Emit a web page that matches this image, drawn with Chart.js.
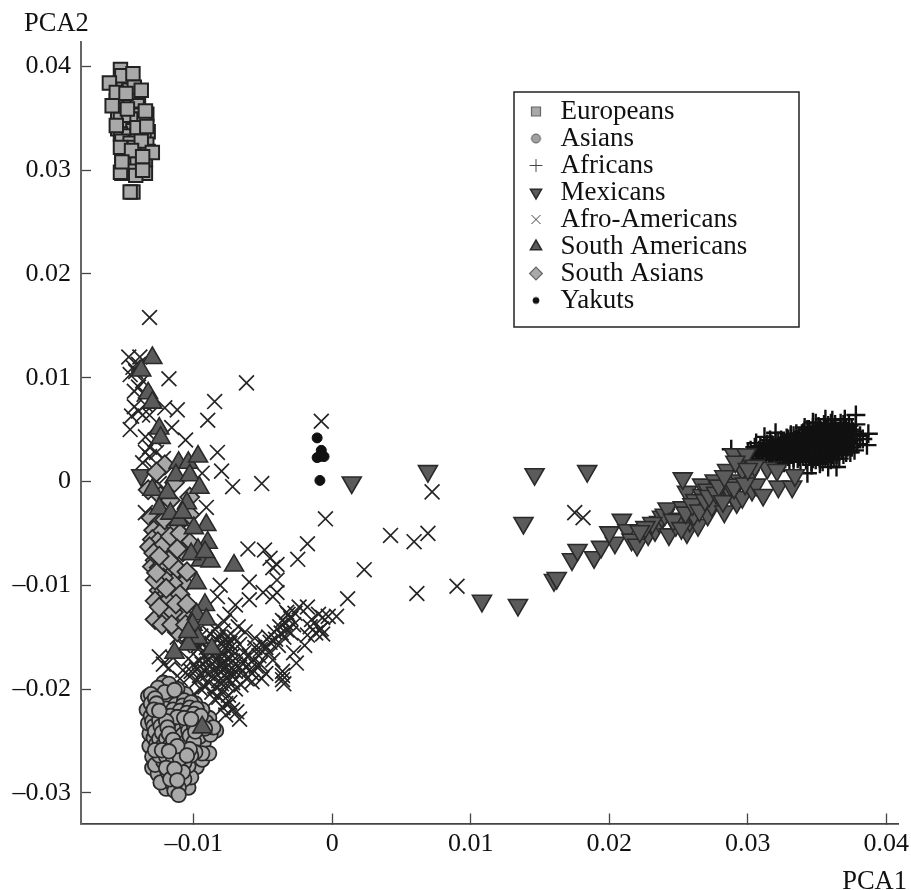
<!DOCTYPE html>
<html><head><meta charset="utf-8">
<style>html,body{margin:0;padding:0;background:#fff}canvas{display:block}</style>
<script src="https://cdn.jsdelivr.net/npm/chart.js@4/dist/chart.umd.min.js"></script>
</head><body><canvas id="c" width="911" height="890"></canvas>
<script>
const xTicks=[-0.01,0,0.01,0.02,0.03,0.04];
const yTicks=[-0.03,-0.02,-0.01,0,0.01,0.02,0.03,0.04];
const europeans=[[-.0147,.0372],[-.0143,.0365],[-.0150,.0360],[-.0145,.0351],[-.0137,.0345],[-.0150,.0345],[-.0147,.0343],[-.0143,.0344],[-.0139,.0340],[-.0151,.0338],[-.0144,.0331],[-.0139,.0332],[-.0135,.0334],[-.0150,.0331],[-.0141,.0327],[-.0148,.0324],[-.0152,.0325],[-.0139,.0322],[-.0135,.0322],[-.0149,.0319],[-.0142,.0316],[-.0137,.0319],[-.0152,.0314],[-.0145,.0310],[-.0150,.0311],[-.0143,.0307],[-.0139,.0304],[-.0149,.0300],[-.0140,.0301],[-.0146,.0350],[-.0139,.0356],
[-.0149,.0386],[-.0146,.0385],[-.0155,.0381],[-.0151,.0379],[-.0147,.0377],[-.0153,.0370],[-.0149,.0366],[-.0144,.0368],[-.0140,.0371],[-.0156,.0367],[-.0146,.0362],[-.0141,.0362],[-.0152,.0358],[-.0150,.0353],[-.0155,.0354],[-.0144,.0354],[-.0139,.0353],[-.0134,.0354],[-.0153,.0349],[-.0147,.0349],[-.0141,.0349],[-.0136,.0349],[-.0155,.0340],[-.0149,.0340],[-.0144,.0338],[-.0137,.0336],[-.0133,.0337],[-.0153,.0335],[-.0147,.0333],[-.0141,.0334],[-.0136,.0331],[-.0152,.0328],[-.0146,.0326],[-.0134,.0325],[-.0150,.0316],[-.0143,.0322],[-.0133,.0318],[-.0147,.0313],[-.0140,.0310],[-.0135,.0310],[-.0151,.0305],[-.0145,.0305],[-.0141,.0306],[-.0137,.0303],[-.0152,.0297],[-.0146,.0299],[-.0135,.0297],
[-.0153,.0397],[-.0152,.0391],[-.0144,.0393],[-.0161,.0384],[-.0143,.0380],[-.0138,.0377],[-.0156,.0375],[-.0149,.0374],[-.0159,.0362],[-.0148,.0359],[-.0135,.0357],[-.0156,.0343],[-.0141,.0341],[-.0134,.0342],[-.0138,.0328],[-.0153,.0322],[-.0145,.0319],[-.0130,.0317],[-.0137,.0313],[-.0153,.0298],[-.0142,.0295],[-.0144,.0279],[-.0146,.0279],[-.0137,.0300],[-.0152,.0308]];
const asiansBack=[[-.0133,-.0207],[-.0134,-.0220],[-.0133,-.0233],[-.0132,-.0243],[-.0132,-.0255],[-.0130,-.0265],[-.0130,-.0276],[-.0126,-.0282],[-.0124,-.0290],[-.0120,-.0296],[-.0104,-.0295],[-.0102,-.0285],[-.0098,-.0275],[-.0094,-.0268],[-.0089,-.0262],[-.0093,-.0252],[-.0096,-.0246],[-.0088,-.0244],[-.0084,-.0240],[-.0089,-.0228],[-.0094,-.0220],[-.0099,-.0214],[-.0106,-.0205],[-.0112,-.0200],[-.0117,-.0198],[-.0126,-.0224],[-.0110,-.0248],[-.0118,-.0246],[-.0106,-.0240],[-.0112,-.0265]];
const asians=[[-.0122,-.0194],[-.0118,-.0195],[-.0126,-.0199],[-.0131,-.0205],[-.0121,-.0203],[-.0114,-.0201],[-.0128,-.0209],[-.0124,-.0208],[-.0119,-.0207],[-.0111,-.0209],[-.0107,-.0211],[-.0102,-.0213],[-.0131,-.0214],[-.0127,-.0214],[-.0122,-.0213],[-.0117,-.0212],[-.0113,-.0215],[-.0108,-.0216],[-.0103,-.0218],[-.0098,-.0219],[-.0129,-.0220],[-.0125,-.0219],[-.0120,-.0219],[-.0115,-.0220],[-.0110,-.0221],[-.0105,-.0223],[-.0100,-.0224],[-.0095,-.0226],[-.0131,-.0226],[-.0127,-.0225],[-.0122,-.0225],[-.0117,-.0226],[-.0112,-.0227],[-.0107,-.0228],[-.0102,-.0229],[-.0097,-.0231],[-.0091,-.0232],[-.0086,-.0237],[-.0092,-.0238],[-.0130,-.0231],[-.0125,-.0230],[-.0120,-.0231],[-.0115,-.0232],[-.0110,-.0233],[-.0105,-.0234],[-.0100,-.0235],[-.0129,-.0236],[-.0124,-.0236],[-.0119,-.0237],[-.0114,-.0238],[-.0109,-.0239],[-.0104,-.0240],[-.0099,-.0241],[-.0128,-.0241],[-.0123,-.0242],[-.0118,-.0243],[-.0113,-.0243],[-.0108,-.0244],[-.0103,-.0245],[-.0129,-.0247],[-.0125,-.0248],[-.0120,-.0248],[-.0115,-.0249],[-.0110,-.0250],[-.0105,-.0250],[-.0100,-.0251],[-.0127,-.0253],[-.0122,-.0254],[-.0117,-.0254],[-.0112,-.0255],[-.0107,-.0255],[-.0094,-.0262],[-.0099,-.0261],[-.0103,-.0258],[-.0128,-.0259],[-.0123,-.0259],[-.0118,-.0260],[-.0113,-.0261],[-.0108,-.0261],[-.0125,-.0264],[-.0120,-.0265],[-.0115,-.0266],[-.0110,-.0267],[-.0105,-.0264],[-.0128,-.0273],[-.0122,-.0270],[-.0117,-.0271],[-.0112,-.0272],[-.0107,-.0271],[-.0120,-.0276],[-.0114,-.0277],[-.0109,-.0277],[-.0104,-.0274],[-.0118,-.0282],[-.0113,-.0283],[-.0108,-.0280],[-.0117,-.0287],[-.0112,-.0288],[-.0107,-.0287],[-.0115,-.0292],[-.0111,-.0295],[-.0119,-.0280],[-.0114,-.0298],[-.0111,-.0302],[-.0125,-.0221],[-.0104,-.0225],[-.0122,-.0261],[-.0102,-.0264]];
const africansBack=[[.0302,.0030],[.0304,.0022],[.0306,.0029],[.0307,.0025],[.0309,.0034],[.0311,.0021],[.0313,.0026],[.0314,.0036],[.0316,.0028],[.0317,.0021],[.0318,.0033],[.0320,.0038],[.0321,.0023],[.0322,.0030],[.0323,.0026],[.0324,.0040],[.0325,.0021],[.0326,.0033],[.0327,.0028],[.0328,.0042],[.0329,.0024],[.0330,.0037],[.0330,.0021],[.0331,.0043],[.0332,.0026],[.0332,.0035],[.0333,.0023],[.0334,.0040],[.0334,.0030],[.0335,.0046],[.0336,.0022],[.0336,.0036],[.0337,.0043],[.0337,.0029],[.0338,.0020],[.0339,.0033],[.0339,.0041],[.0340,.0025],[.0340,.0047],[.0341,.0035],[.0342,.0021],[.0342,.0044],[.0343,.0030],[.0343,.0050],[.0344,.0024],[.0344,.0039],[.0345,.0046],[.0345,.0028],[.0346,.0019],[.0346,.0036],[.0347,.0052],[.0347,.0042],[.0348,.0026],[.0348,.0033],[.0349,.0048],[.0349,.0021],[.0350,.0039],[.0350,.0029],[.0351,.0053],[.0351,.0044],[.0352,.0023],[.0352,.0032],[.0353,.0047],[.0353,.0037],[.0354,.0019],[.0354,.0028],[.0355,.0055],[.0355,.0041],[.0356,.0024],[.0356,.0034],[.0357,.0052],[.0357,.0044],[.0358,.0021],[.0358,.0029],[.0359,.0047],[.0359,.0033],[.0360,.0056],[.0360,.0037],[.0361,.0026],[.0361,.0051],[.0362,.0042],[.0362,.0022],[.0363,.0030],[.0363,.0055],[.0364,.0038],[.0365,.0048],[.0365,.0029],[.0366,.0022],[.0366,.0044],[.0367,.0033],[.0367,.0051],[.0368,.0040],[.0369,.0026],[.0369,.0055],[.0370,.0034],[.0371,.0043],[.0371,.0028],[.0372,.0048],[.0372,.0038],[.0373,.0054],[.0374,.0040],[.0375,.0033],[.0376,.0048]];
const africans=[[.0288,.0031],[.0306,.0037],[.0320,.0047],[.0347,.0057],[.0361,.0059],[.0378,.0064],[.0387,.0046],[.0386,.0035],[.0377,.0030],[.0364,.0014],[.0343,.0008],[.0321,.0014],[.0300,.0029],[.0303,.0026],[.0305,.0033],[.0308,.0030],[.0310,.0026],[.0312,.0034],[.0314,.0030],[.0315,.0024],[.0317,.0036],[.0319,.0031],[.0320,.0027],[.0322,.0039],[.0323,.0034],[.0325,.0029],[.0326,.0024],[.0327,.0036],[.0329,.0041],[.0330,.0032],[.0331,.0027],[.0332,.0038],[.0333,.0044],[.0334,.0034],[.0335,.0029],[.0336,.0041],[.0337,.0024],[.0338,.0036],[.0339,.0046],[.0340,.0031],[.0341,.0041],[.0342,.0027],[.0343,.0036],[.0344,.0050],[.0345,.0033],[.0346,.0044],[.0347,.0022],[.0348,.0039],[.0349,.0028],[.0350,.0047],[.0351,.0035],[.0352,.0052],[.0353,.0025],[.0354,.0042],[.0355,.0033],[.0356,.0049],[.0357,.0030],[.0358,.0054],[.0359,.0038],[.0360,.0021],[.0361,.0045],[.0362,.0033],[.0363,.0050],[.0364,.0026],[.0365,.0042],[.0366,.0036],[.0367,.0056],[.0368,.0030],[.0369,.0047],[.0370,.0038],[.0371,.0052],[.0372,.0033],[.0373,.0044],[.0374,.0028],[.0375,.0050],[.0376,.0040],[.0377,.0046],[.0379,.0036],[.0381,.0044],[.0383,.0041],[.0378,.0055],[.0370,.0060],[.0356,.0060],[.0352,.0017],[.0358,.0014],[.0346,.0016],[.0333,.0019],[.0326,.0018],[.0316,.0040],[.0312,.0043],[.0331,.0045],[.0341,.0052],[.0349,.0056],[.0343,.0035],[.0347,.0032],[.0352,.0040],[.0356,.0037],[.0360,.0041],[.0345,.0040],[.0350,.0033],[.0354,.0036],[.0358,.0034],[.0362,.0037],[.0364,.0046],[.0340,.0037],[.0336,.0033],[.0332,.0031],[.0328,.0031],[.0324,.0033],[.0318,.0027],[.0311,.0030]];
const mexicans=[[-.0138,.0006],[.0014,-.0001],[.0069,.0010],[.0146,.0007],[.0184,.0010],[.0138,-.0040],[.0108,-.0115],[.0134,-.0119],[.0160,-.0095],[.0162,-.0093],[.0173,-.0075],[.0177,-.0066],[.0189,-.0073],[.0194,-.0063],[.0204,-.0059],[.0200,-.0049],[.0209,-.0037],[.0213,-.0047],[.0216,-.0056],[.0220,-.0061],[.0228,-.0051],[.0233,-.0047],[.0236,-.0039],[.0238,-.0034],[.0240,-.0032],[.0242,-.0026],[.0243,-.0051],[.0248,-.0042],[.0250,-.0036],[.0256,-.0049],[.0253,-.0025],[.0258,-.0038],[.0264,-.0042],[.0261,-.0032],[.0256,-.0010],[.0253,.0003],[.0267,-.0003],[.0267,-.0013],[.0262,-.0018],[.0271,-.0032],[.0274,-.0023],[.0276,.0001],[.0271,-.0008],[.0280,-.0015],[.0283,-.0029],[.0285,-.0008],[.0285,.0011],[.0288,-.0012],[.0290,.0026],[.0292,-.0020],[.0294,.0001],[.0294,.0016],[.0296,-.0015],[.0299,.0026],[.0301,.0005],[.0303,-.0008],[.0306,-.0003],[.0311,-.0013],[.0314,.0013],[.0321,.0011],[.0322,-.0005],[.0332,-.0005],[.0334,.0006],[.0296,.0012],[.0291,.0019],[.0305,.0015],[.0231,-.0040],[.0226,-.0044],[.0222,-.0048],[.0246,-.0037],[.0252,-.0045],[.0255,-.0030],[.0260,-.0022],[.0265,-.0028],[.0269,-.0018],[.0272,-.0014],[.0277,-.0011],[.0279,-.0004],[.0282,-.0019],[.0287,-.0003],[.0290,-.0006],[.0298,-.0002],[.0300,.0012],[.0283,.0005]];
const afroBack=[[-.0104,-.0148],[-.0100,-.0154],[-.0097,-.0158],[-.0094,-.0155],[-.0091,-.0160],[-.0087,-.0156],[-.0083,-.0153],[-.0080,-.0157],[-.0076,-.0155],[-.0074,-.0161],[-.0078,-.0168],[-.0082,-.0170],[-.0086,-.0168],[-.0090,-.0172],[-.0094,-.0176],[-.0098,-.0181],[-.0102,-.0183],[-.0096,-.0187],[-.0090,-.0185],[-.0086,-.0182],[-.0082,-.0178],[-.0078,-.0173],[-.0075,-.0177],[-.0072,-.0173],[-.0078,-.0181],[-.0074,-.0185],[-.0070,-.0183],[-.0067,-.0179],[-.0076,-.0190],[-.0072,-.0194],[-.0080,-.0195],[-.0084,-.0198],[-.0089,-.0194],[-.0080,-.0202],[-.0075,-.0206],[-.0085,-.0210],[-.0079,-.0218],[-.0074,-.0213],[-.0069,-.0222],[-.0095,-.0200],[-.0064,-.0172],[-.0060,-.0168],[-.0065,-.0183],[-.0060,-.0182],[-.0055,-.0178],[-.0052,-.0162],[-.0048,-.0160],[-.0045,-.0155],[-.0041,-.0152],[-.0037,-.0146],[-.0033,-.0143],[-.0028,-.0138],[-.0036,-.0134],[-.0032,-.0128],[-.0027,-.0127],[-.0058,-.0193],[-.0051,-.0190],[-.0036,-.0187],[-.0016,-.0140],[-.0012,-.0146],[-.0118,-.0180],[-.0122,-.0176],[-.0125,-.0169]];
const afroAmericans=[[-.0132,.0158],[-.0147,.0120],[-.0139,.0120],[-.0118,.0099],[-.0062,.0095],[-.0085,.0077],[-.0090,.0059],[-.0112,.0069],[-.0121,.0071],[-.0116,.0052],[-.0106,.0040],[-.0146,.0050],[-.0083,.0028],[-.0080,.0010],[-.0094,.0008],[-.0072,-.0005],[-.0051,-.0002],[-.0008,.0058],[-.0005,-.0036],[-.0018,-.0060],[-.0025,-.0075],[-.0061,-.0065],[-.0049,-.0066],[-.0045,-.0074],[.0023,-.0085],[.0042,-.0052],[.0059,-.0058],[.0069,-.0050],[.0072,-.0010],[.0175,-.0030],[.0181,-.0035],[.0090,-.0101],[.0061,-.0108],[.0011,-.0113],[-.0018,-.0121],[.0003,-.0130],[-.0003,-.0130],[-.0008,-.0142],[-.0007,-.0147],[-.0040,-.0095],[-.0040,-.0080],[-.0043,-.0111],[-.0060,-.0114],[-.0050,-.0107],[-.0091,-.0025],[-.0135,-.0030],[-.0043,-.0083],[-.0060,-.0097],[-.0081,-.0100],[-.0083,-.0111],[-.0040,-.0107],[-.0070,-.0119],[-.0033,-.0126],[-.0024,-.0121],[-.0007,-.0131],[-.0009,-.0143],[-.0018,-.0148],[-.0026,-.0175],[-.0036,-.0191],[-.0036,-.0183],
[-.0144,.0110],[-.0146,.0103],[-.0140,.0113],[-.0142,.0106],[-.0140,.0091],[-.0137,.0097],[-.0143,.0087],[-.0136,.0084],[-.0143,.0072],[-.0137,.0064],[-.0132,.0064],[-.0140,.0068],[-.0135,.0074],[-.0145,.0063],[-.0135,.0043],[-.0132,.0033],[-.0137,.0018],[-.0132,.0024],[-.0128,.0040],[-.0130,.0013],[-.0135,.0028],[-.0127,.0028],[-.0125,-.0002],[-.0122,.0022],
[-.0106,-.0135],[-.0102,-.0142],[-.0098,-.0145],[-.0095,-.0149],[-.0092,-.0153],[-.0088,-.0147],[-.0085,-.0142],[-.0082,-.0150],[-.0079,-.0144],[-.0076,-.0150],[-.0074,-.0156],[-.0077,-.0160],[-.0080,-.0165],[-.0084,-.0160],[-.0088,-.0165],[-.0092,-.0168],[-.0096,-.0172],[-.0100,-.0176],[-.0104,-.0171],[-.0108,-.0182],[-.0103,-.0188],[-.0098,-.0192],[-.0093,-.0182],[-.0088,-.0178],[-.0084,-.0172],[-.0079,-.0176],[-.0076,-.0171],[-.0072,-.0168],[-.0070,-.0176],[-.0074,-.0182],[-.0078,-.0187],[-.0082,-.0192],[-.0087,-.0188],[-.0092,-.0198],[-.0087,-.0203],[-.0082,-.0208],[-.0077,-.0214],[-.0072,-.0220],[-.0067,-.0229],[-.0077,-.0225],[-.0070,-.0200],[-.0066,-.0196],[-.0062,-.0190],[-.0058,-.0185],[-.0062,-.0178],[-.0057,-.0172],[-.0053,-.0168],[-.0056,-.0160],[-.0050,-.0156],[-.0046,-.0150],[-.0042,-.0145],[-.0038,-.0140],[-.0034,-.0136],[-.0030,-.0132],[-.0046,-.0165],[-.0052,-.0176],[-.0048,-.0185],[-.0043,-.0172],[-.0039,-.0158],[-.0035,-.0150],[-.0030,-.0146],[-.0056,-.0151],[-.0064,-.0165],[-.0067,-.0157],[-.0071,-.0150],[-.0068,-.0140],[-.0063,-.0145],[-.0078,-.0135],[-.0074,-.0128],[-.0112,-.0150],[-.0108,-.0158],[-.0115,-.0170],[-.0110,-.0190],[-.0096,-.0160],[-.0100,-.0205],[-.0081,-.0183],[-.0077,-.0195],[-.0072,-.0188],[-.0035,-.0195],[-.0020,-.0158],[-.0028,-.0165],[-.0015,-.0133],[-.0010,-.0128]];
const southAmericans=[[-.0130,.0119],[-.0138,.0107],[-.0133,.0085],[-.0130,.0076],[-.0125,.0051],[-.0124,.0042],[-.0111,.0018],[-.0104,.0018],[-.0097,.0024],[-.0113,.0006],[-.0103,.0006],[-.0096,-.0006],[-.0130,-.0008],[-.0119,-.0011],[-.0105,-.0021],[-.0125,-.0026],[-.0117,-.0031],[-.0111,-.0037],[-.0091,-.0042],[-.0090,-.0059],[-.0097,-.0066],[-.0095,-.0076],[-.0071,-.0081],[-.0088,-.0077],[-.0098,-.0098],[-.0092,-.0119],[-.0098,-.0128],[-.0091,-.0133],[-.0101,-.0138],[-.0097,-.0151],[-.0104,-.0157],[-.0114,-.0165],[-.0087,-.0161],[-.0094,-.0237],[-.0108,-.0030],[-.0100,-.0045],[-.0102,-.0070],[-.0092,-.0068],[-.0104,-.0145]];
const southAsians=[[-.0131,-.0035],[-.0125,-.0040],[-.0129,-.0047],[-.0123,-.0048],[-.0130,-.0056],[-.0126,-.0058],[-.0132,-.0063],[-.0128,-.0076],[-.0123,-.0066],[-.0119,-.0064],[-.0115,-.0069],[-.0122,-.0079],[-.0115,-.0080],[-.0130,-.0082],[-.0125,-.0095],[-.0119,-.0088],[-.0112,-.0093],[-.0107,-.0098],[-.0125,-.0105],[-.0121,-.0110],[-.0114,-.0106],[-.0128,-.0115],[-.0122,-.0118],[-.0128,-.0133],[-.0119,-.0130],[-.0127,-.0009],[-.0121,.0016],[-.0127,.0009],[-.0133,-.0008],[-.0114,-.0001],[-.0103,-.0015],[-.0124,-.0014],[-.0117,-.0018],[-.0121,-.0037],[-.0103,-.0032],[-.0113,-.0043],[-.0122,-.0061],[-.0117,-.0053],[-.0110,-.0050],[-.0103,-.0059],[-.0129,-.0069],[-.0125,-.0083],[-.0112,-.0084],[-.0118,-.0076],[-.0105,-.0087],[-.0115,-.0098],[-.0122,-.0093],[-.0118,-.0114],[-.0110,-.0109],[-.0125,-.0121],[-.0108,-.0128],[-.0115,-.0126],[-.0123,-.0138],[-.0112,-.0145],[-.0116,-.0138],[-.0128,-.0095],[-.0125,-.0072],[-.0127,-.0088],[-.0108,-.0068],[-.0112,-.0065],[-.0120,-.0103],[-.0113,-.0118],[-.0105,-.0118],[-.0106,-.0138]];
const yakuts=[[-.0011,.0042],[-.0008,.0030],[-.0009,.0024],[-.0011,.0023],[-.0006,.0024],[-.0009,.0001]];
const legendNames=['Europeans','Asians','Africans','Mexicans','Afro-Americans','South Americans','South Asians','Yakuts'];
const toPts=a=>a.map(p=>({x:p[0],y:p[1]}));
// same values, only the paint order is stirred so overlapping circles do not form rows
const stir=(a,n)=>{const o=[];for(let k=0;k<n;k++)a.forEach((p,i)=>{if(i%n===k)o.push(p);});return o;};
const serif='"Liberation Serif"';
const ds=(i,data,style,radius,bg,bd,bw,order,rot)=>({label:legendNames[i],data:toPts(data),pointStyle:style,pointRadius:radius,pointHoverRadius:radius,backgroundColor:bg,borderColor:bd,borderWidth:bw,pointBorderWidth:bw,order:order,rotation:rot||0,pointRotation:rot||0,showLine:false});
const dot=(r,fill,stroke)=>{const s=document.createElement('canvas');s.width=s.height=2*r+4;const c=s.getContext('2d');c.beginPath();c.arc(r+2,r+2,r,0,7);c.fillStyle=fill;c.fill();c.lineWidth=1;c.strokeStyle=stroke;c.stroke();return s;};
const legendDots={Asians:dot(4.5,'#a0a0a0','#555'),Yakuts:dot(3,'#111','#111')};
const legendBox={
  id:'legendBox',
  beforeDraw(chart){
    const l=chart.legend,x=514,y=92,w=285,h=235,c=chart.ctx;
    l.left=525;l.top=98;l.right=790;l.bottom=320;l.width=265;l.height=222;
    chart.titleBlock.left=24;
    c.save();c.strokeStyle='#222';c.lineWidth=1.5;c.strokeRect(x,y,w,h);c.restore();
  }
};
const fmt=v=>Math.abs(v)<1e-9?'0':(v<0?'–':'')+Math.abs(v).toFixed(2);
new Chart(document.getElementById('c'),{
  type:'scatter',
  data:{datasets:[
    ds(0,europeans,'rect',9.5,'#a9a9a9','#222',2,8),
    ds(1,stir(asiansBack,3).concat(stir(asians,7)),'circle',7.3,'#a9a9a9','#2a2a2a',1.8,6),
    ds(2,africansBack.concat(africans),'cross',9.5,'#111','#111',2.4,5),
    ds(3,mexicans,'triangle',11,'#5b5b5b','#2a2a2a',1.6,4,180),
    ds(4,afroBack.concat(afroAmericans),'crossRot',10.5,'#222','#262626',1.7,7),
    ds(5,southAmericans,'triangle',11,'#5b5b5b','#2a2a2a',1.6,2),
    ds(6,southAsians,'rectRot',9.5,'#a9a9a9','#2a2a2a',1.8,3),
    ds(7,yakuts,'circle',5,'#111','#111',1,1)
  ]},
  plugins:[legendBox],
  options:{
    responsive:false,animation:false,
    layout:{padding:{left:0,right:4,top:0,bottom:0}},
    plugins:{
      tooltip:{enabled:false},
      title:{display:true,text:'PCA2',align:'start',color:'#111',font:{family:serif,size:26.5,lineHeight:1,weight:'normal'},padding:{top:11,bottom:4}},
      subtitle:{display:true,text:'PCA1',position:'bottom',align:'end',color:'#111',font:{family:serif,size:26.5,lineHeight:1,weight:'normal'},padding:{top:-1,bottom:-5}},
      legend:{position:'chartArea',align:'start',labels:{usePointStyle:true,boxHeight:9,boxWidth:22,padding:0,color:'#111',font:{family:serif,size:27,lineHeight:1},
        sort:(a,b)=>a.datasetIndex-b.datasetIndex,
        generateLabels(chart){
          const items=Chart.defaults.plugins.legend.labels.generateLabels(chart);
          items.forEach(it=>{
            if(legendDots[it.text])it.pointStyle=legendDots[it.text];
            if(it.text==='Africans'||it.text==='Afro-Americans'){it.lineWidth=1;it.strokeStyle='#444';}
            if(it.text==='Europeans'){it.lineWidth=1.2;it.strokeStyle='#666';}
            if(it.text==='South Asians'){it.lineWidth=1.2;it.strokeStyle='#666';}
          });
          return items;
        }}}
    },
    scales:{
      x:{type:'linear',min:-0.01815,max:0.04087,
        afterBuildTicks(s){s.ticks=xTicks.map(v=>({value:v}));},
        afterFit(s){s.height=46;s.paddingLeft=0;s.paddingRight=0;},
        grid:{drawOnChartArea:false,tickLength:-10,tickColor:'#444',tickWidth:1.3},
        border:{color:'#444',width:1.8},
        ticks:{color:'#111',padding:18,maxRotation:0,font:{family:serif,size:26,lineHeight:1},callback:fmt}},
      y:{type:'linear',min:-0.03296,max:0.0424,
        afterBuildTicks(s){s.ticks=yTicks.map(v=>({value:v}));},
        afterFit(s){s.width=81;s.paddingTop=0;s.paddingBottom=0;},
        grid:{drawOnChartArea:false,tickLength:-10,tickColor:'#444',tickWidth:1.3},
        border:{color:'#666',width:2},
        ticks:{color:'#111',padding:20,font:{family:serif,size:26,lineHeight:1},callback:fmt}},
      pad:{type:'linear',position:'right',display:true,afterFit(s){s.width=8;},grid:{display:false,drawTicks:false},border:{display:false},ticks:{display:false}}
    }
  }
});
</script></body></html>
